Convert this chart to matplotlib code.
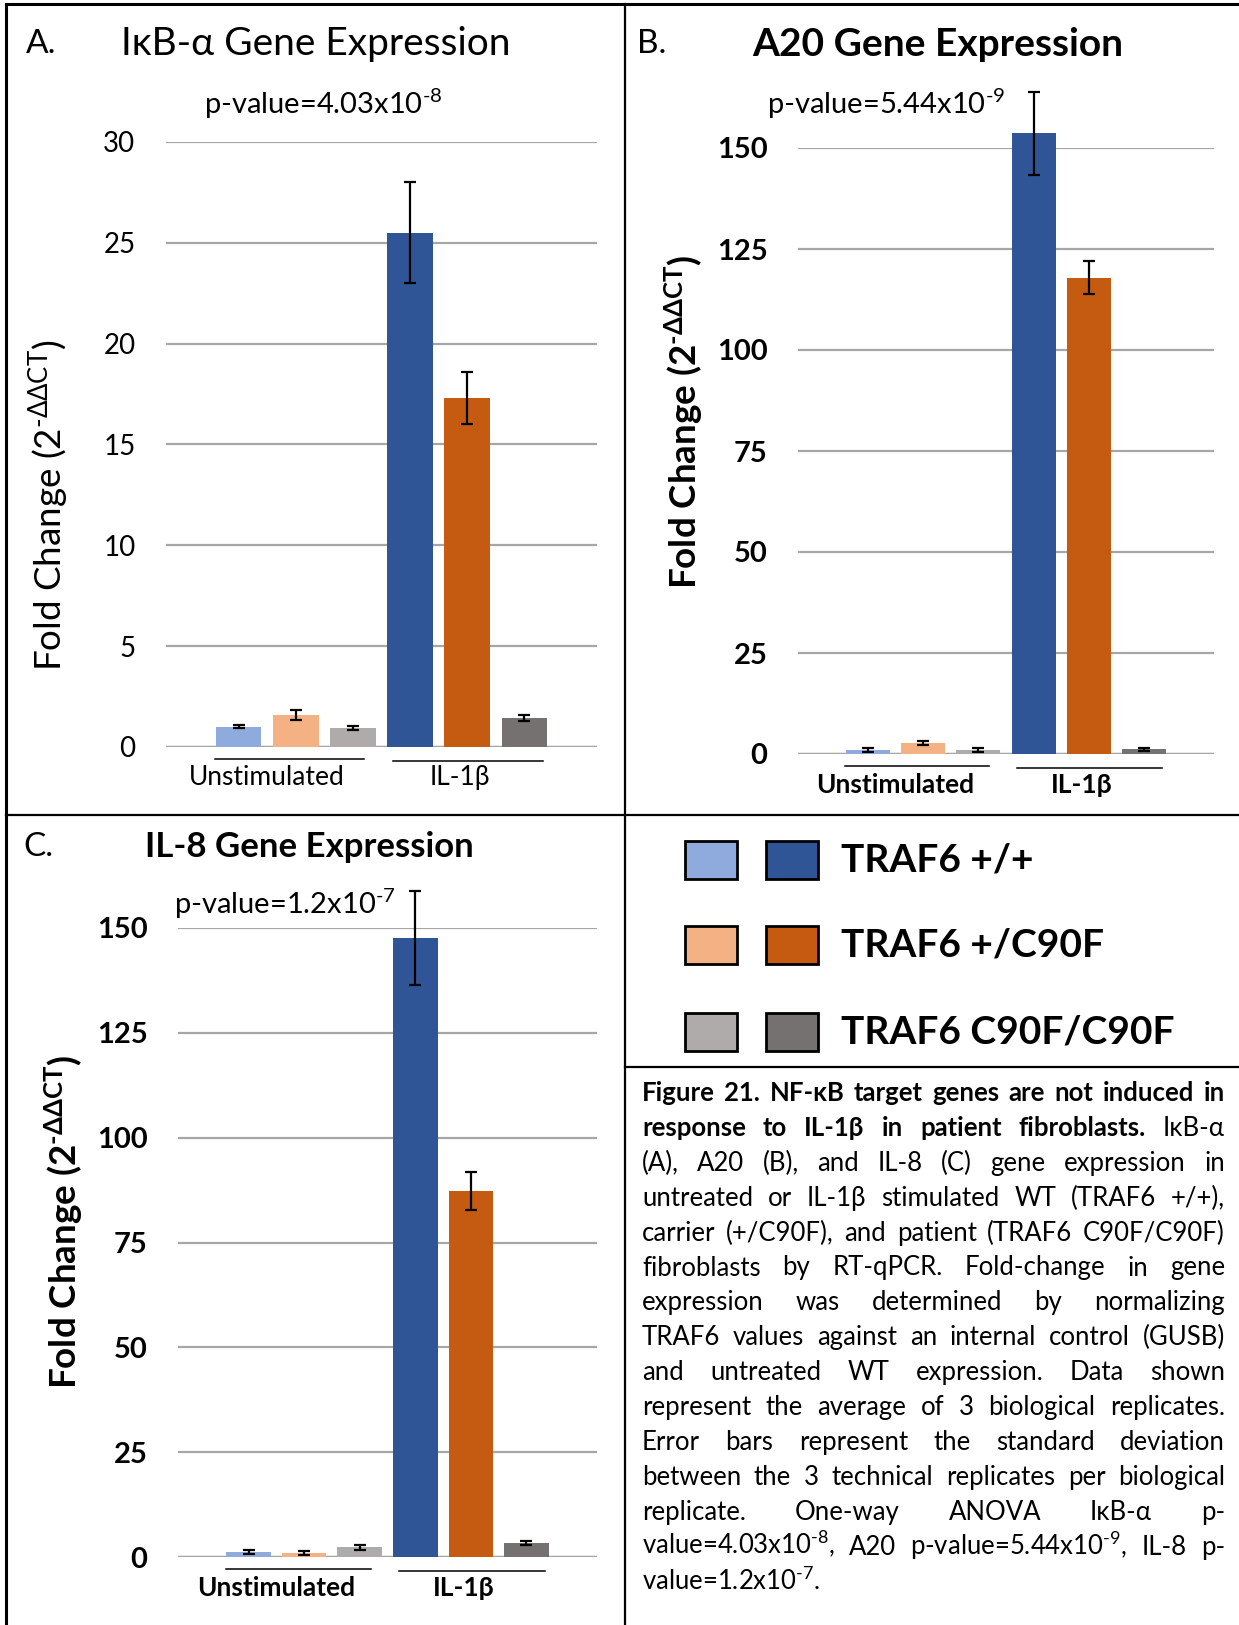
import matplotlib
matplotlib.use("Agg")
import matplotlib.pyplot as plt
from matplotlib import transforms
from matplotlib.lines import Line2D
from matplotlib.patches import Rectangle

plt.rcParams['font.family'] = ['Lato', 'DejaVu Sans']
plt.rcParams['mathtext.default'] = 'regular'

W, H = 1239, 1625

# data
groups = ['Unstimulated', 'IL-1β']
genotypes = ['TRAF6 +/+', 'TRAF6 +/C90F', 'TRAF6 C90F/C90F']
light = ['#8faadc', '#f4b183', '#afabab']
dark = ['#2f5597', '#c55a11', '#767171']
bar_colors = light + dark

ikba_mean = [1.0, 1.6, 0.95, 25.5, 17.3, 1.45]
ikba_sd = [0.07, 0.25, 0.1, 2.5, 1.3, 0.15]
a20_mean = [1.0, 2.7, 1.0, 153.6, 117.9, 1.2]
a20_sd = [0.4, 0.4, 0.4, 10.2, 4.1, 0.4]
il8_mean = [1.1, 0.9, 2.3, 147.6, 87.3, 3.3]
il8_sd = [0.5, 0.5, 0.6, 11.3, 4.6, 0.5]

HY = '\u2010'  # plain hyphen for superscripts (mathtext turns '-' into a long minus)
fig = plt.figure(figsize=(W / 100, H / 100), dpi=100)


def fx(x):
    return x / W


def fy(y):
    return 1 - y / H


def panel(box, mean, sd, ymax, step, bold, letter, title, pval, head_y, letter_x, title_x,
          pval_xy, ylab_xy, tsize, tick_size):
    x0, y0, x1, y1 = box
    ax = fig.add_axes([fx(x0), fy(y1), (x1 - x0) / W, (y1 - y0) / H])
    xs = list(range(len(mean)))
    ax.bar(xs, mean, width=0.8, color=bar_colors, zorder=2, clip_on=False)
    eb = ax.errorbar(xs, mean, yerr=sd, fmt='none', ecolor='black', elinewidth=1.6,
                     capsize=4, capthick=1.6, zorder=3)
    for c in eb.get_children():
        c.set_clip_on(False)
    ax.set_xlim(-1.27, 6.27)
    ax.set_ylim(0, ymax)
    ax.set_yticks(range(0, ymax + 1, step))
    ax.yaxis.grid(True, color='#a6a6a6', lw=1.6)
    ax.axhline(0, color='#a6a6a6', lw=2.4, zorder=1)
    ax.set_axisbelow(True)
    for s in ax.spines.values():
        s.set_visible(False)
    ax.set_xticks([])
    ax.tick_params(axis='y', length=0, pad=22, labelsize=tick_size)
    wt = 'bold' if bold else 'normal'
    for lab in ax.get_yticklabels():
        lab.set_fontweight(wt)

    # two-level category axis
    hpx = y1 - y0
    tr = transforms.blended_transform_factory(ax.transData, ax.transAxes)
    ax.plot([-0.41, 2.2], [-12 / hpx] * 2, color='black', lw=1.1, transform=tr, clip_on=False)
    ax.plot([2.7, 5.33], [-14 / hpx] * 2, color='black', lw=1.1, transform=tr, clip_on=False)
    ax.text(0.5, -31 / hpx, groups[0], transform=tr, ha='center', va='center',
            fontsize=19, fontweight=wt)
    ax.text(3.87, -31 / hpx, groups[1], transform=tr, ha='center', va='center',
            fontsize=19, fontweight=wt)

    fig.text(fx(letter_x), fy(head_y), letter, fontsize=24, va='center', ha='left')
    fig.text(fx(title_x), fy(head_y), title, fontsize=tsize, va='center', ha='left', fontweight=wt)
    fig.text(fx(pval_xy[0]), fy(pval_xy[1]), pval, fontsize=21, va='center', ha='left')
    fig.text(fx(ylab_xy[0]), fy(ylab_xy[1]), 'Fold Change (2$^{' + HY + 'ΔΔCT}$)', rotation=90,
             fontsize=26.5, ha='center', va='center', fontweight=wt)
    return ax


panel((166, 142, 597, 747), ikba_mean, ikba_sd, 30, 5, False, 'A.', 'IκB-α Gene Expression',
      'p-value=4.03x10$^{' + HY + '8}$', 44, 26, 121, (204, 104), (49, 505), 28, 20)
panel((798, 148, 1214, 754), a20_mean, a20_sd, 150, 25, True, 'B.', 'A20 Gene Expression',
      'p-value=5.44x10$^{' + HY + '9}$', 44, 637, 752, (767, 104), (684, 422), 28, 21)
panel((178, 928, 597, 1557), il8_mean, il8_sd, 150, 25, True, 'C.', 'IL-8 Gene Expression',
      'p-value=1.2x10$^{' + HY + '7}$', 847, 23, 145, (174, 904), (64, 1222), 25, 21)

# legend
rows_y = [860, 945, 1032]
for i, name in enumerate(genotypes):
    for j, col in enumerate([light[i], dark[i]]):
        lx = [685, 766][j]
        fig.add_artist(Rectangle((fx(lx), fy(rows_y[i] + 19)), 52 / W, 38 / H,
                                 facecolor=col, edgecolor='black', lw=2,
                                 transform=fig.transFigure))
    fig.text(fx(841), fy(rows_y[i]), name, fontsize=28, fontweight='bold', va='center', ha='left')


# frame lines
def seg(xa, ya, xb, yb, lw=2.2):
    fig.add_artist(Line2D([fx(xa), fx(xb)], [fy(ya), fy(yb)], color='black', lw=lw,
                          transform=fig.transFigure))


seg(6, 4, W, 4)
seg(6, 4, 6, H)
seg(625, 4, 625, H, 1.6)
seg(6, 815, W, 815, 1.6)
seg(625, 1067, W, 1067, 1.6)

# caption, justified
s8 = '$^{' + HY + '8}$'
s9 = '$^{' + HY + '9}$'
s7 = '$^{' + HY + '7}$'
caption = [
    ("Figure 21. NF-κB target genes are not induced in", 9),
    ("response to IL-1β in patient fibroblasts. IκB-α", 6),
    ("(A), A20 (B), and IL-8 (C) gene expression in", 0),
    ("untreated or IL-1β stimulated WT (TRAF6 +/+),", 0),
    ("carrier (+/C90F), and patient (TRAF6 C90F/C90F)", 0),
    ("fibroblasts by RT-qPCR. Fold-change in gene", 0),
    ("expression was determined by normalizing", 0),
    ("TRAF6 values against an internal control (GUSB)", 0),
    ("and untreated WT expression. Data shown", 0),
    ("represent the average of 3 biological replicates.", 0),
    ("Error bars represent the standard deviation", 0),
    ("between the 3 technical replicates per biological", 0),
    ("replicate. One-way ANOVA IκB-α p-", 0),
    ("value=4.03x10" + s8 + ", A20 p-value=5.44x10" + s9 + ", IL-8 p-", 0),
    ("value=1.2x10" + s7 + ".", 0),
]
cx0, cx1 = 642, 1225
base0, dy = 1101, 34.9
r = fig.canvas.get_renderer()
for i, (line, nb) in enumerate(caption):
    words = line.split(' ')
    yb = base0 + i * dy
    arts = []
    for k, w in enumerate(words):
        arts.append(fig.text(0, fy(yb), w, fontsize=18.5, va='baseline', ha='left',
                             fontweight='bold' if k < nb else 'normal'))
    widths = [a.get_window_extent(r).width for a in arts]
    if i == len(caption) - 1:
        gap = 5
    else:
        gap = (cx1 - cx0 - sum(widths)) / (len(arts) - 1)
    x = cx0
    for a, w in zip(arts, widths):
        a.set_x(fx(x))
        x += w + gap

fig.savefig('out.png', dpi=100)
